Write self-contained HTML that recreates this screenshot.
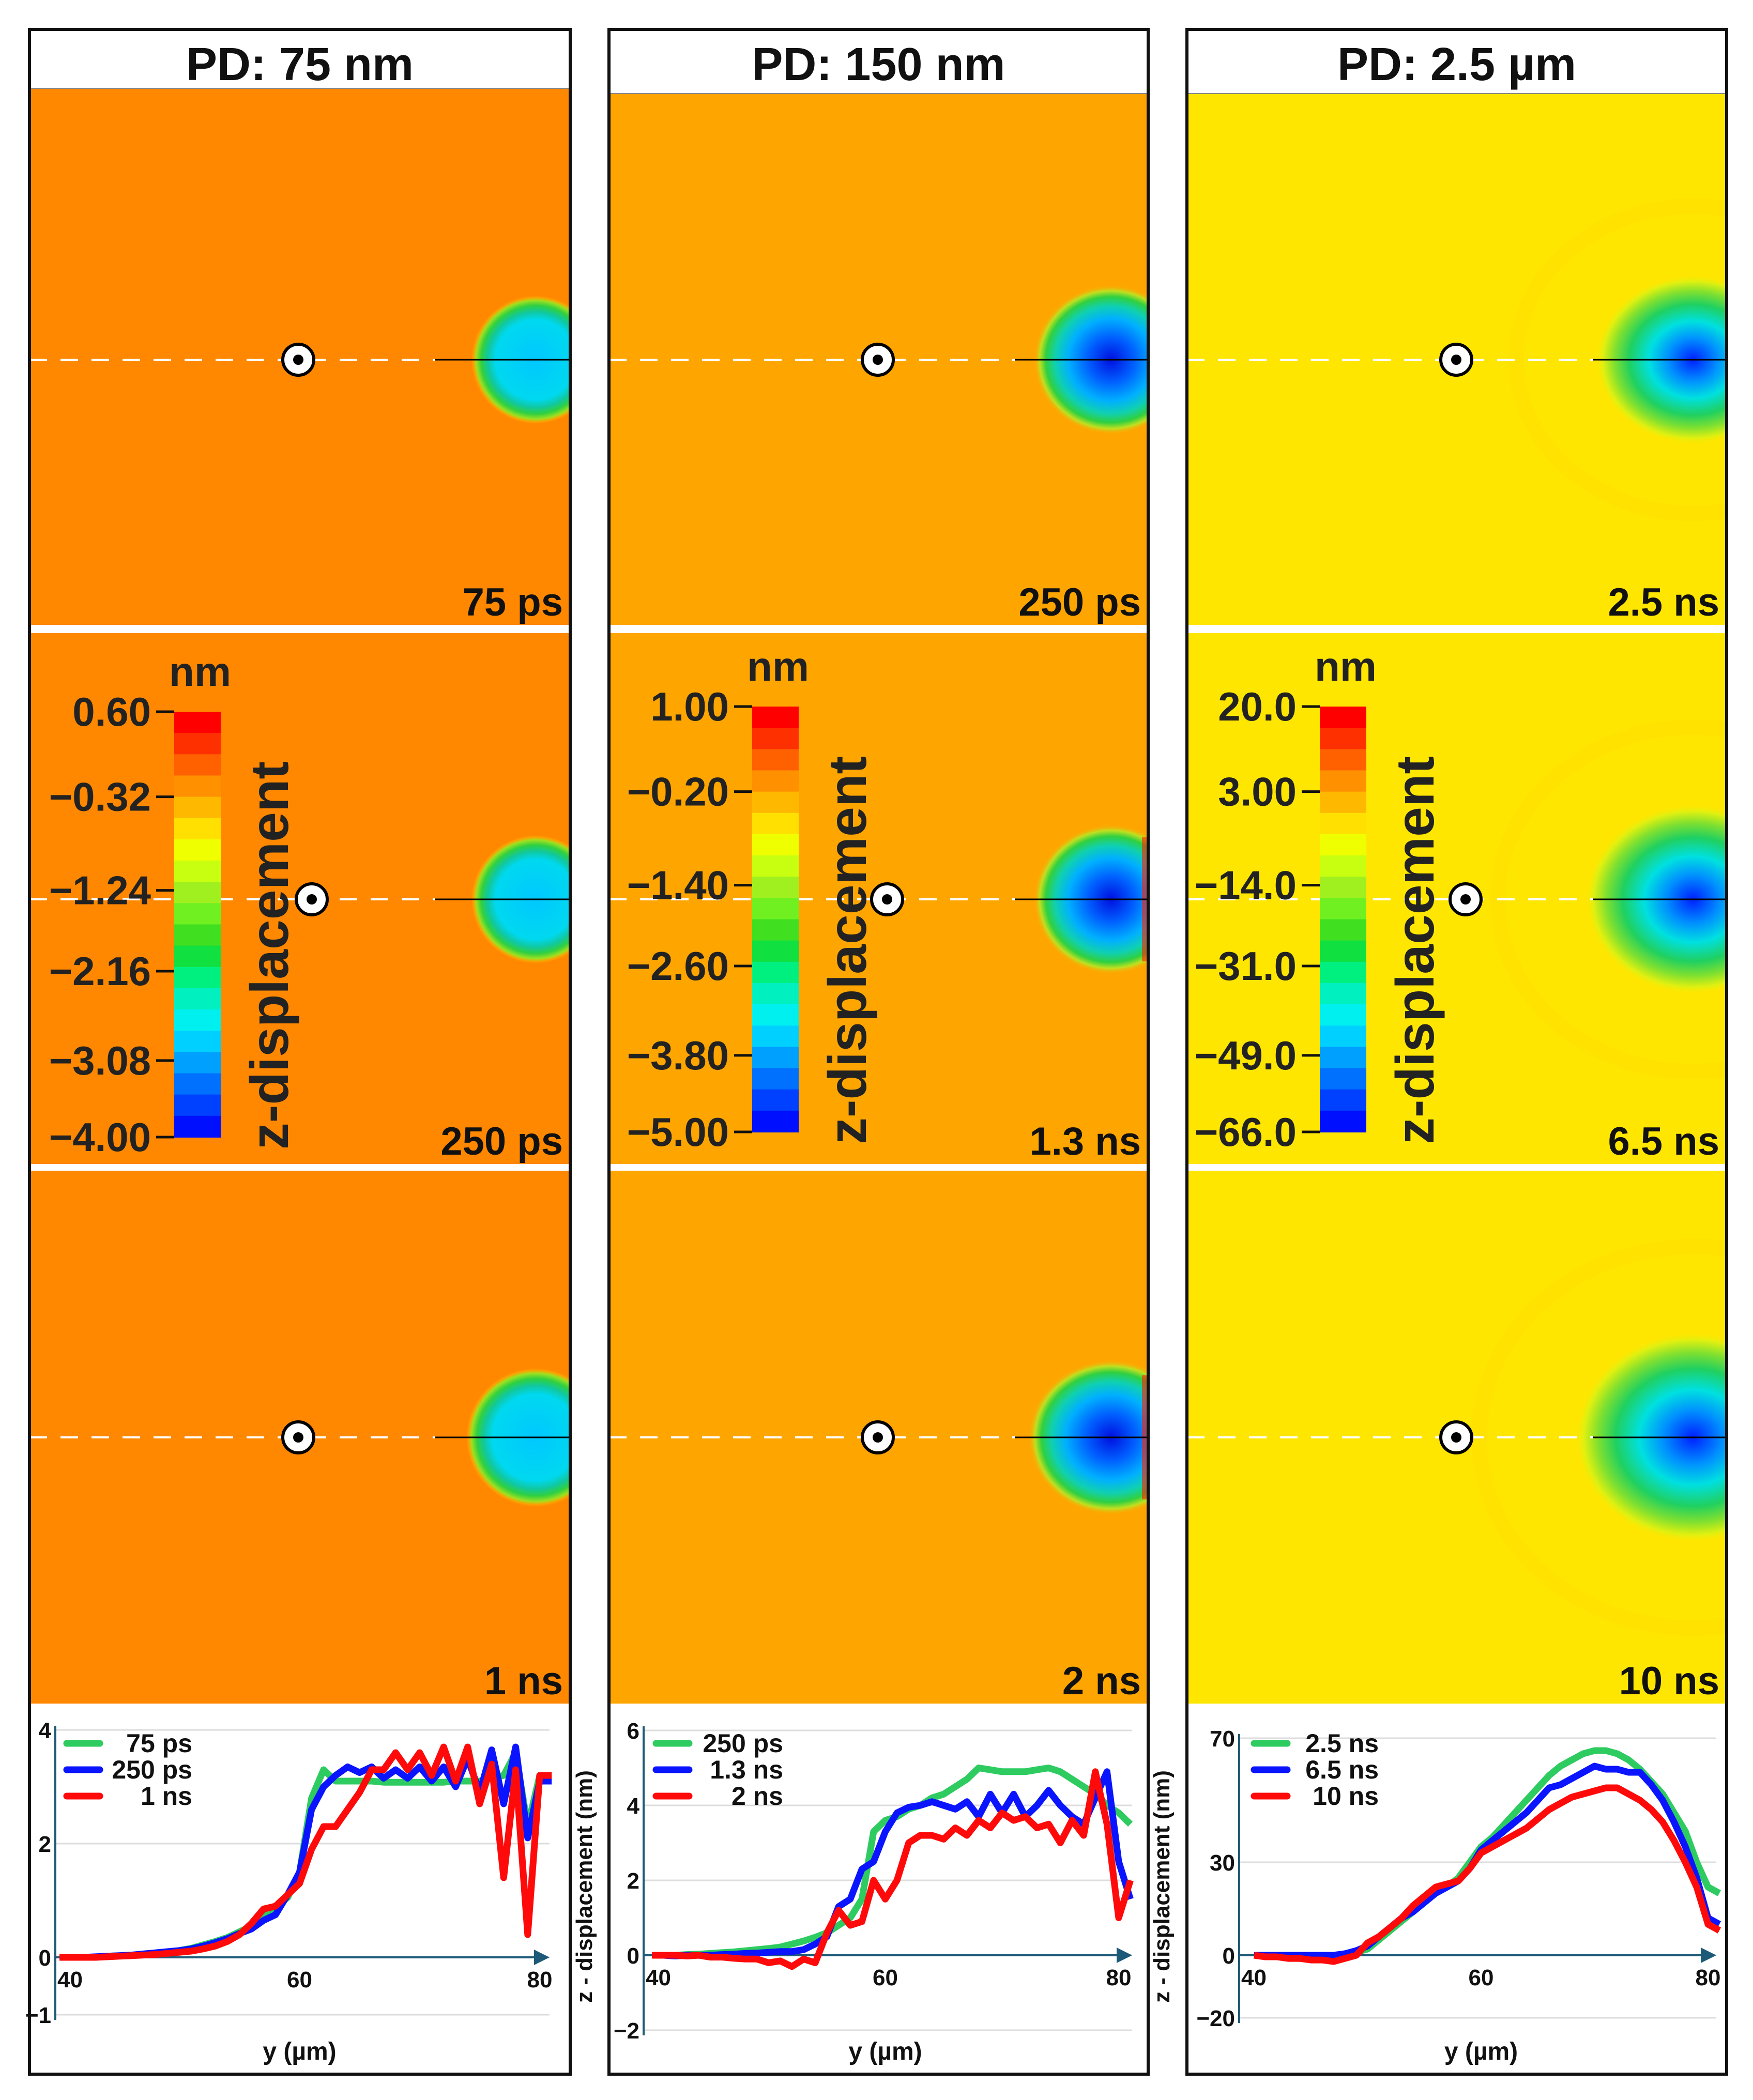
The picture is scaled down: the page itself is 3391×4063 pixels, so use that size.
<!DOCTYPE html>
<html><head><meta charset="utf-8">
<style>
html,body{margin:0;padding:0;background:#fff;}
svg{display:block;font-family:"Liberation Sans",Arial,sans-serif;}
</style></head>
<body>
<svg id="fig" width="3391" height="4063" viewBox="0 0 3391 4063" xmlns="http://www.w3.org/2000/svg">
<defs>
<radialGradient id="g1" cx="0.5" cy="0.5" r="0.5">
<stop offset="0" stop-color="#00c8ff"/><stop offset="0.62" stop-color="#00d8f0"/><stop offset="0.74" stop-color="#10c8a0"/><stop offset="0.84" stop-color="#30d040"/><stop offset="0.92" stop-color="#a0e020"/><stop offset="0.97" stop-color="#ffb000" stop-opacity="0.5"/><stop offset="1" stop-color="#ff8800" stop-opacity="0"/>
</radialGradient>
<radialGradient id="g2" cx="0.5" cy="0.5" r="0.5">
<stop offset="0" stop-color="#0010e0"/><stop offset="0.3" stop-color="#0060ff"/><stop offset="0.55" stop-color="#00b0ff"/><stop offset="0.72" stop-color="#10d0b0"/><stop offset="0.84" stop-color="#30d040"/><stop offset="0.92" stop-color="#c0e020"/><stop offset="1" stop-color="#ffa500" stop-opacity="0"/>
</radialGradient>
<radialGradient id="g3" cx="0.5" cy="0.5" r="0.5">
<stop offset="0" stop-color="#0020ff"/><stop offset="0.25" stop-color="#0090ff"/><stop offset="0.45" stop-color="#00e0e0"/><stop offset="0.65" stop-color="#20d060"/><stop offset="0.8" stop-color="#80e030"/><stop offset="0.92" stop-color="#e0f010"/><stop offset="1" stop-color="#ffe600" stop-opacity="0"/>
</radialGradient>
</defs>
</svg>
<script>
// ---------- chart data ----------
const xs = [40,41,42,43,44,45,46,47,48,49,50,51,52,53,54,55,56,57,58,59,60,61,62,63,64,65,66,67,68,69,70,71,72,73,74,75,76,77,78,79,80,81];
const p1Green = [0,0,0,0,0.02,0.03,0.04,0.05,0.07,0.09,0.12,0.16,0.22,0.28,0.35,0.45,0.55,0.7,0.9,1.05,1.5,2.8,3.3,3.1,3.1,3.1,3.1,3.08,3.08,3.08,3.08,3.08,3.08,3.1,3.1,3.1,3.15,3.2,3.6,2.3,3.2,3.2];
const p1Blue  = [0,0,0,0.01,0.02,0.03,0.04,0.06,0.08,0.1,0.12,0.15,0.2,0.26,0.33,0.42,0.5,0.65,0.75,1.1,1.5,2.6,3.0,3.2,3.35,3.25,3.35,3.15,3.3,3.15,3.35,3.1,3.35,3.0,3.5,2.9,3.65,2.7,3.7,2.1,3.1,3.1];
const p1Red   = [0,0,0,0,0.01,0.02,0.03,0.04,0.05,0.07,0.09,0.11,0.15,0.2,0.28,0.4,0.6,0.85,0.9,1.1,1.3,1.9,2.3,2.3,2.6,2.9,3.3,3.3,3.6,3.3,3.6,3.2,3.7,3.1,3.7,2.7,3.4,1.4,3.3,0.4,3.2,3.2];
const p2Green = [0,0,0,0.02,0.03,0.05,0.07,0.09,0.12,0.15,0.18,0.22,0.3,0.38,0.48,0.6,0.8,1.0,1.5,3.3,3.6,3.7,3.9,4.0,4.2,4.3,4.5,4.7,5.0,4.95,4.9,4.9,4.9,4.95,5.0,4.9,4.7,4.5,4.3,4.0,3.8,3.5];
const p2Blue  = [0,0,-0.02,0,0,0,0.02,0.03,0.05,0.06,0.08,0.1,0.1,0.15,0.3,0.5,1.3,1.5,2.3,2.5,3.3,3.8,3.95,4.0,4.1,4.0,3.9,4.1,3.7,4.3,3.8,4.3,3.7,4.0,4.4,4.0,3.7,3.5,4.2,4.9,2.5,1.5];
const p2Red   = [0,0,0,-0.02,0,-0.05,-0.05,-0.08,-0.1,-0.1,-0.2,-0.15,-0.3,-0.1,-0.2,0.6,1.2,0.8,0.9,2.0,1.5,2.0,3.0,3.2,3.2,3.1,3.4,3.2,3.6,3.4,3.8,3.6,3.7,3.4,3.5,3.0,3.6,3.2,4.9,3.5,1.0,2.0];
const p3Green = [0,0,0,0,0,0,0,0,0,1,2,5,8,11,14,17,20,22,25,30,35,38,42,46,50,54,58,61,63,65,66,66,65,63,60,56,52,46,40,30,22,20];
const p3Blue  = [0,0,0,0,0,0,0,0,0.5,1.5,3,6,9,12,14,17,20,22,24,28,34,37,40,43,46,50,54,55,57,59,61,60,60,59,59,55,50,43,35,25,12,10];
const p3Red   = [0,-0.5,-0.5,-1,-1,-1.5,-1.5,-2,-1,0,4,6,9,12,16,19,22,23,24,28,33,35,37,39,41,44,47,49,51,52,53,54,54,52,50,47,43,37,30,22,10,8];
const p1YTicks = [4,2,0,-1];
const p2YTicks = [6,4,2,0,-2];
const p3YTicks = [70,30,0,-20];
const xTicks = [40,60,80];
const legend1 = ["75 ps","250 ps","1 ns"];
const legend2 = ["250 ps","1.3 ns","2 ns"];
const legend3 = ["2.5 ns","6.5 ns","10 ns"];
const titles = ["PD: 75 nm","PD: 150 nm","PD: 2.5 \u00b5m"];
const timeLabels = [["75 ps","250 ps","1 ns"],["250 ps","1.3 ns","2 ns"],["2.5 ns","6.5 ns","10 ns"]];
const cbTicks1 = ["0.60","\u22120.32","\u22121.24","\u22122.16","\u22123.08","\u22124.00"];
const cbTicks2 = ["1.00","\u22120.20","\u22121.40","\u22122.60","\u22123.80","\u22125.00"];
const cbTicks3 = ["20.0","3.00","\u221214.0","\u221231.0","\u221249.0","\u221266.0"];

const NS = "http://www.w3.org/2000/svg";
const svg = document.getElementById('fig');
function mk(tag, attrs, parent, txt){
  const e = document.createElementNS(NS, tag);
  for (const k in attrs) e.setAttribute(k, attrs[k]);
  if (txt !== undefined) e.textContent = txt;
  (parent||svg).appendChild(e);
  return e;
}
const panels = [
  {x0:57,x1:1103,tb:171,bg:"#ff8800",grad:"g1",mk:[577,603,577],blob:[1036,1036,1036],brx:[125,125,135],bry:[125,125,135]},
  {x0:1178,x1:2221,tb:181,bg:"#ffa500",grad:"g2",mk:[1698,1716,1698],blob:[2149,2149,2149],brx:[150,150,160],bry:[145,145,150]},
  {x0:2296,x1:3340,tb:181,bg:"#ffe600",grad:"g3",mk:[2817,2835,2817],blob:[3275,3275,3275],brx:[190,210,230],bry:[165,185,205]}
];
const rows = [[null,1209],[1225,2252],[2265,3296]];
const lineY = [696,1740,2781];
const cbColors = ["#ff0000","#ff3000","#ff6000","#ff9000","#ffb800","#ffe000","#f0ff00","#c8ff10","#a0f020","#70f020","#40e020","#10e040","#00f080","#00f0c0","#00f0f0","#00d0ff","#00a0ff","#0070ff","#0040ff","#0010ff"];
const cbTicks = [cbTicks1,cbTicks2,cbTicks3];

panels.forEach((p,pi)=>{
  const g = mk('g',{});
  
  
  const w = p.x1-p.x0;
  rows.forEach((r,ri)=>{
    const y0 = ri===0 ? p.tb : r[0], y1 = r[1];
    const cid = 'clip'+pi+'_'+ri;
    const cp = mk('clipPath',{id:cid},g); mk('rect',{x:p.x0,y:y0,width:w,height:y1-y0},cp);
    const rg = mk('g',{'clip-path':'url(#'+cid+')'},g);
    
    
    mk('rect',{x:p.x0,y:y0,width:w,height:y1-y0,fill:p.bg},rg);
    if(pi===2){ mk('ellipse',{cx:p.blob[ri],cy:lineY[ri],rx:p.brx[ri]*1.8,ry:p.bry[ri]*1.8,fill:'none',stroke:'#ffd000','stroke-width':30,opacity:0.2},rg); }
    mk('ellipse',{cx:p.blob[ri],cy:lineY[ri],rx:p.brx[ri],ry:p.bry[ri],fill:'url(#'+p.grad+')'},rg);
    if(pi===1 && ri>0){ mk('rect',{x:p.x1-12,y:lineY[ri]-120,width:12,height:240,fill:'#ff2000',opacity:0.6},rg); }
    mk('line',{x1:p.x0,y1:lineY[ri],x2:p.x0+785,y2:lineY[ri],stroke:'#fff','stroke-width':4,'stroke-dasharray':'34 26'},rg);
    mk('line',{x1:p.x0+785,y1:lineY[ri],x2:p.x1,y2:lineY[ri],stroke:'#000','stroke-width':3},rg);
    const m = mk('g',{},rg);
    
    
    mk('circle',{cx:p.mk[ri],cy:lineY[ri],r:30,fill:'#fff',stroke:'#000','stroke-width':6},m);
    mk('circle',{cx:p.mk[ri],cy:lineY[ri],r:10,fill:'#000'},m);
    const tl = mk('text',{x:p.x1-14,y:y1-18,'text-anchor':'end','font-size':76,'font-weight':'bold',fill:'#111'},rg,timeLabels[pi][ri]);
    
    
  });
  const t = mk('text',{x:(p.x0+p.x1)/2,y:155,'text-anchor':'middle','font-size':90,'font-weight':'bold',fill:'#111'},g,titles[pi]);
  
  
  const cbX = [337,1455,2553][pi], cbY0 = [1377,1367,1367][pi], cbY1 = [2200,2190,2190][pi];
  const cb = mk('g',{},g);
  
  
  const bh = (cbY1-cbY0)/cbColors.length;
  cbColors.forEach((c,i)=>mk('rect',{x:cbX,y:cbY0+i*bh,width:90,height:bh+1,fill:c},cb));
  mk('text',{x:cbX+50,y:cbY0-50,'text-anchor':'middle','font-size':80,'font-weight':'bold',fill:'#222'},cb,'nm');
  const tickYs = [0,0.2,0.42,0.61,0.82,1];
  cbTicks[pi].forEach((lab,i)=>{
    const ty = cbY0 + tickYs[i]*(cbY1-cbY0);
    mk('line',{x1:cbX-35,y1:ty,x2:cbX,y2:ty,stroke:'#111','stroke-width':5},cb);
    mk('text',{x:cbX-45,y:ty+27,'text-anchor':'end','font-size':78,'font-weight':'bold',fill:'#222'},cb,lab);
  });
  const zx = cbX+220, zy = (cbY0+cbY1)/2+60;
  mk('text',{x:zx,y:zy,'text-anchor':'middle','font-size':104,'font-weight':'bold',fill:'#222',transform:'rotate(-90 '+zx+' '+zy+')'},cb,'z-displacement');
  mk('rect',{x:p.x0,y:1209,width:w,height:16,fill:'#fff'},g);
  mk('rect',{x:p.x0,y:2252,width:w,height:13,fill:'#fff'},g);
  mk('line',{x1:p.x0,y1:p.tb,x2:p.x1,y2:p.tb,stroke:'#888','stroke-width':2},g);
  mk('rect',{x:p.x0,y:57,width:w,height:4013-57,fill:'none',stroke:'#111','stroke-width':6},g);
});

const charts = [
  {ax:107,x40:115,x80:1044,yTop:3347,yZero:3787,yMinPx:3898,ticks:p1YTicks,tMax:4,tMin:-1,series:[p1Green,p1Blue,p1Red],legend:legend1,lx:129,ltx:372,right:1063,ylab:null},
  {ax:1245,x40:1261,x80:2164,yTop:3348,yZero:3783,yMinPx:3928,ticks:p2YTicks,tMax:6,tMin:-2,series:[p2Green,p2Blue,p2Red],legend:legend2,lx:1269,ltx:1515,right:2190,ylab:1145},
  {ax:2397,x40:2426,x80:3304,yTop:3363,yZero:3783,yMinPx:3904,ticks:p3YTicks,tMax:70,tMin:-20,series:[p3Green,p3Blue,p3Red],legend:legend3,lx:2426,ltx:2667,right:3320,ylab:2262}
];
const colors = ["#2ecc60","#0a14ff","#ff0a0a"];
charts.forEach((c,ci)=>{
  const g = mk('g',{});
  
  
  const X = v => c.x40 + (v-40)*(c.x80-c.x40)/40;
  const Y = v => v>=0 ? c.yZero - v*(c.yZero-c.yTop)/c.tMax : c.yZero + v*(c.yMinPx-c.yZero)/c.tMin;
  c.ticks.forEach(t=>{
    mk('line',{x1:c.ax,y1:Y(t),x2:c.right,y2:Y(t),stroke:'#ddd','stroke-width':3},g);
    const tl = mk('text',{x:c.ax-8,y:Y(t)+16,'text-anchor':'end','font-size':44,'font-weight':'bold',fill:'#111'},g,(t<0?'\u2212'+(-t):String(t)));
    
    
  });
  mk('line',{x1:c.ax,y1:c.yTop-8,x2:c.ax,y2:c.yMinPx+10,stroke:'#1d5a78','stroke-width':4},g);
  mk('line',{x1:c.ax,y1:c.yZero,x2:c.right-20,y2:c.yZero,stroke:'#1d5a78','stroke-width':4},g);
  mk('polygon',{points:(c.right-30)+','+(c.yZero-15)+' '+c.right+','+c.yZero+' '+(c.right-30)+','+(c.yZero+15),fill:'#1d5a78'},g);
  xTicks.forEach((t,i)=>{
    const xl = mk('text',{x:i===0?c.ax+4:X(t),y:c.yZero+58,'text-anchor':i===0?'start':'middle','font-size':44,'font-weight':'bold',fill:'#111'},g,String(t));
    
    
  });
  const xt = mk('text',{x:(c.x40+c.x80)/2,y:3985,'text-anchor':'middle','font-size':48,'font-weight':'bold',fill:'#111'},g,'y (\u00b5m)');
  
  
  if(c.ylab){
    const yt = mk('text',{x:c.ylab,y:3650,'text-anchor':'middle','font-size':44,'font-weight':'bold',fill:'#111',transform:'rotate(-90 '+c.ylab+' 3650)'},g,'z - displacement (nm)');
    
    
  }
  c.series.forEach((s,si)=>{
    const pts = s.map((v,i)=>X(xs[i]).toFixed(1)+','+Y(v).toFixed(1)).join(' ');
    const pl = mk('polyline',{points:pts,fill:'none',stroke:colors[si],'stroke-width':13,'stroke-linejoin':'round'},g);
    
    
  });
  c.legend.forEach((lab,i)=>{
    const ly = 3373 + i*51;
    const le = mk('g',{},g);
    
    
    mk('line',{x1:c.lx,y1:ly,x2:c.lx+64,y2:ly,stroke:colors[i],'stroke-width':13,'stroke-linecap':'round'},le);
    mk('text',{x:c.ltx,y:ly+17,'text-anchor':'end','font-size':50,'font-weight':'bold',fill:'#111'},le,lab);
  });
});
</script>
</body></html>
